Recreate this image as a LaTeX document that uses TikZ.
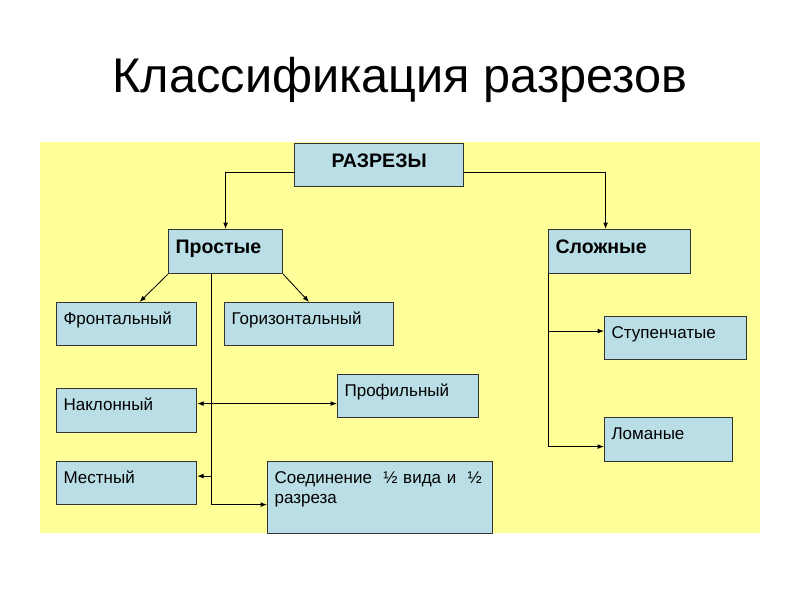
\documentclass[tikz,border=0pt]{standalone}
\usepackage{fontspec}
\setmainfont{Liberation Sans}
\usetikzlibrary{positioning,arrows.meta}
\definecolor{bgyellow}{RGB}{255,255,153}
\definecolor{boxblue}{RGB}{186,222,230}
\tikzset{%
    every box/.style={
      rectangle,
      draw=black!80,
      line width=0.8pt,
      fill=boxblue,
      anchor=north west,
      inner xsep=1.75mm,
      inner ysep=0pt,
      align=left,
      text height=5.5mm,
      font=\fontsize{12.1}{14.5}\selectfont
    },
    main box/.style={
      every box,
      text height=6mm,
      font=\fontsize{13.9}{16}\selectfont\bfseries
    },
    link/.style={
      line width=0.6pt,
      -{Latex[length=1.6mm,width=1.2mm]}
    },
    both link/.style={
      line width=0.6pt,
      {Latex[length=1.6mm,width=1.2mm]}-{Latex[length=1.6mm,width=1.2mm]}
    }
  }
\begin{document}
\begin{tikzpicture}[x=0.025cm, y=-0.025cm]
      \useasboundingbox (0,0) rectangle (800,600);
      \fill[bgyellow] (40,142) rectangle (760,533);

      \node [anchor=base, font=\fontsize{34.6}{40}\selectfont] (title) at (400,92) {Классификация разрезов};

      \node [main box, align=center, text width=38.75mm, text depth=4.75mm] (raz) at (294,143) {РАЗРЕЗЫ};
      \node [main box, text width=25mm, text depth=5mm] (pro) at (168,229) {Простые};
      \node [main box, text width=32mm, text depth=5mm] (slo) at (548,229) {Сложные};

      \node [every box, text width=31.5mm, text depth=5.25mm] (fro) at (56,302) {Фронтальный};
      \node [every box, text width=38.75mm, text depth=5.25mm] (gor) at (224,302) {Горизонтальный};
      \node [every box, text width=31.5mm, text depth=5.5mm] (nak) at (56,388) {Наклонный};
      \node [every box, text width=31.75mm, text depth=5.25mm] (prf) at (337,374) {Профильный};
      \node [every box, text width=31.5mm, text depth=5.25mm] (mes) at (56,461) {Местный};
      \node [every box, text width=52.75mm, text depth=12.5mm] (soe) at (267,461) {Соединение \ ½ вида и \ ½\\разреза};

      \node [every box, text width=32mm, text depth=5.25mm] (stu) at (604,316) {Ступенчатые};
      \node [every box, text width=28.5mm, text depth=5.5mm] (lom) at (604,417) {Ломаные};

      \coordinate (trunk) at ([xshift=-3.5mm]pro.south);
      \coordinate (mesin) at ([yshift=1.75mm]mes.east);
      \coordinate (nakin) at ([yshift=1.75mm]nak.east);
      \coordinate (stuin) at ([yshift=1.75mm]stu.west);

      \draw [link] ([yshift=-1.75mm]raz.west) -| (pro.north);
      \draw [link] ([yshift=-1.75mm]raz.east) -| ([xshift=-3.5mm]slo.north);

      \draw [link] (pro.south west) -- ([xshift=3.25mm]fro.north);
      \draw [link] (pro.south east) -- (gor.north);

      \draw [link] (trunk) |- ([yshift=-1.75mm]soe.west);
      \draw [link] (trunk |- mesin) -- (mesin);
      \draw [both link] (nakin) -- (nakin -| prf.west);

      \draw [link] (slo.south west) |- ([yshift=-1.75mm]lom.west);
      \draw [link] (slo.south west |- stuin) -- (stuin);
    \end{tikzpicture}
\end{document}
